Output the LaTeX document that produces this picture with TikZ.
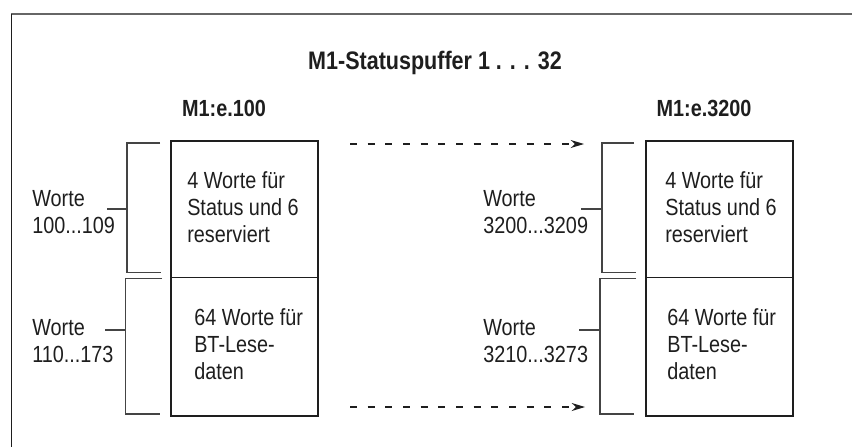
\documentclass[tikz,border=0pt]{standalone}
\usepackage{fontspec}
\usetikzlibrary{arrows.meta}
\newfontfamily\diagfont[FakeStretch=0.85]{Liberation Sans}
\definecolor{ink}{HTML}{1E1E1E}
\definecolor{frameg}{HTML}{666666}
\definecolor{brk}{HTML}{444444}
\tikzset{
  cell/.style={draw=ink, line width=0.9pt, inner sep=0pt},
  bodytext/.style={inner sep=0pt, anchor=base west, align=left, text=ink,
    font=\diagfont\fontsize{17.5}{20.25}\selectfont},
  headtext/.style={inner sep=0pt, anchor=base, text=ink,
    font=\diagfont\bfseries\fontsize{17.5}{20}\selectfont},
  titletext/.style={inner sep=0pt, anchor=base, text=ink,
    font=\diagfont\bfseries\fontsize{19}{22}\selectfont},
  bracketline/.style={draw=brk, line width=0.9pt},
  flowarrow/.style={draw=ink, line width=0.8pt, dash pattern=on 5.25pt off 8pt,
    -{Stealth[length=10pt,width=6pt]}},
}
\begin{document}
\begin{tikzpicture}[x=0.75pt,y=-0.75pt]
\useasboundingbox (0,0) rectangle (852,447);
% frame
\draw[frameg, line width=1.6pt] (11,14) -- (852,14);
\draw[ink, line width=1pt] (11.7,14) -- (11.7,447);
% titles
\node[titletext] (title) at (435,69) {M1-Statuspuffer 1 . . . 32};
\node[headtext] (hl) at (224,116.5) {M1:e.100};
\node[headtext] (hr) at (704,116.5) {M1:e.3200};
% left boxes
\path[cell] (171,141) rectangle (318,277.5);
\path[cell] (171,277.5) rectangle (318,416);
% (multi-line nodes: base anchor = baseline of the last line)
\node[bodytext] (lt) at (187,242) {4 Worte für\\Status und 6\\reserviert};
\node[bodytext] (lb) at (194,379) {64 Worte für\\BT-Lese-\\daten};
% right boxes
\path[cell] (646,141) rectangle (793,277.5);
\path[cell] (646,277.5) rectangle (793,416);
\node[bodytext] (rt) at (665,242) {4 Worte für\\Status und 6\\reserviert};
\node[bodytext] (rb) at (667,379) {64 Worte für\\BT-Lese-\\daten};
% word labels
\node[bodytext] (wl1) at (32,233) {Worte\\100...109};
\node[bodytext] (wl2) at (32,362) {Worte\\110...173};
\node[bodytext] (wr1) at (483,233) {Worte\\3200...3209};
\node[bodytext] (wr2) at (483,362) {Worte\\3210...3273};
% left brackets
\draw[bracketline] (160,143) -- (127,143) -- (127,272.5) -- (161,272.5);
\draw[bracketline] (162,278.5) -- (125.5,278.5) -- (125.5,414) -- (160,414);
\draw[bracketline] (107,209) -- (127,209);
\draw[bracketline] (105,330) -- (125.5,330);
% right brackets
\draw[bracketline] (634,143) -- (602,143) -- (602,272.5) -- (636,272.5);
\draw[bracketline] (636,278.5) -- (600,278.5) -- (600,414) -- (634,414);
\draw[bracketline] (581,209) -- (602,209);
\draw[bracketline] (579,330) -- (600,330);
% dashed arrows
\coordinate (a1s) at (350,144);
\coordinate (a1e) at (584,144);
\coordinate (a2s) at (350,407);
\coordinate (a2e) at (585,407);
\draw[flowarrow] (a1s) -- (a1e);
\draw[flowarrow] (a2s) -- (a2e);
\end{tikzpicture}
\end{document}
